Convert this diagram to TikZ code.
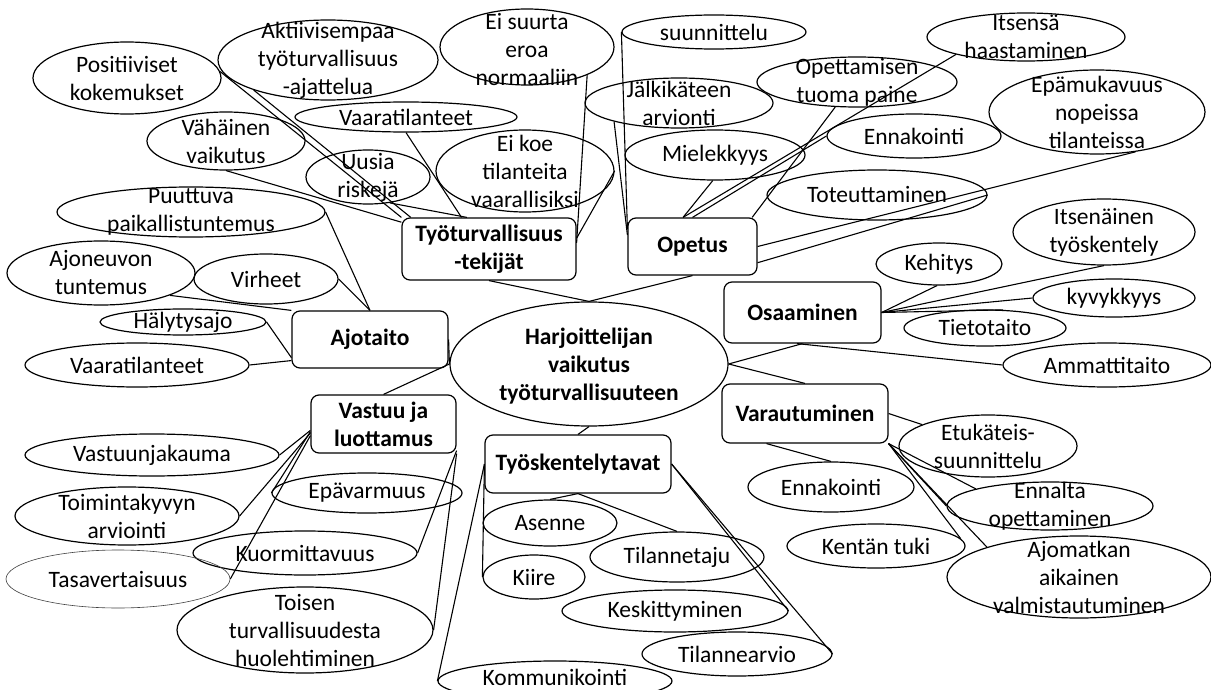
\documentclass[tikz,border=0pt]{standalone}
\usepackage{fontspec}
\setmainfont{Carlito}
\usetikzlibrary{shapes.geometric}

\begin{document}
\begin{tikzpicture}[x=1pt,y=-1pt]
    \tikzstyle{every node}+=[inner sep=0pt]
    \tikzstyle{leaf}=[draw=black, ellipse, line width=1.2pt]
    \tikzstyle{thinleaf}=[draw=black!75, ellipse, line width=0.6pt]
    \tikzstyle{hub}=[draw=black, rounded corners=8pt, line width=1.2pt, align=center, font=\fontsize{23.5}{28}\selectfont\bfseries]
    \tikzstyle{txt}=[align=center, font=\fontsize{23.5}{28}\selectfont]
    \tikzstyle{btxt}=[align=center, font=\fontsize{23.5}{28}\selectfont\bfseries]
    \tikzstyle{link}=[black, line width=1.1pt]
    \useasboundingbox (0,0) rectangle (1211,690);
    \node [leaf, minimum width=278, minimum height=124] (main) at (589,364) {};
    \node [btxt] (main-txt) at (589,366) {Harjoittelijan\\vaikutus\\työturvallisuuteen};
    \node [hub, minimum width=174, minimum height=62] (tek) at (489,249) {Työturvallisuus\\-tekijät};
    \node [hub, minimum width=129, minimum height=57] (opetus) at (692.5,246.5) {Opetus};
    \node [hub, minimum width=157, minimum height=61] (osaam) at (802.5,312.5) {Osaaminen};
    \node [hub, minimum width=166, minimum height=59] (varau) at (805,413.5) {Varautuminen};
    \node [hub, minimum width=156, minimum height=57] (ajo) at (370,339.5) {Ajotaito};
    \node [hub, minimum width=145, minimum height=58] (vastuu) at (383.5,424) {Vastuu ja\\luottamus};
    \node [hub, minimum width=186, minimum height=58] (tyosk) at (578,464) {Työskentelytavat};
    \node [leaf, minimum width=188, minimum height=72] (poskok) at (127,78) {};
    \node [txt] (poskok-txt) at (poskok) {Positiiviset\\kokemukset};
    \node [leaf, minimum width=220, minimum height=80] (aktiiv) at (328,60) {};
    \node [txt] (aktiiv-txt) at (aktiiv) {Aktiivisempaa\\työturvallisuus\\-ajattelua};
    \node [leaf, minimum width=158, minimum height=58] (vahainen) at (226,141) {};
    \node [txt] (vahainen-txt) at (vahainen) {Vähäinen\\vaikutus};
    \node [leaf, minimum width=222, minimum height=30] (vaara1) at (406,117) {};
    \node [txt] (vaara1-txt) at (vaara1) {Vaaratilanteet};
    \node [leaf, minimum width=124, minimum height=54] (uusia) at (368,177) {};
    \node [txt] (uusia-txt) at (uusia) {Uusia\\riskejä};
    \node [leaf, minimum width=268, minimum height=50] (puuttuva) at (191,212) {};
    \node [txt] (puuttuva-txt) at (puuttuva) {Puuttuva\\paikallistuntemus};
    \node [leaf, minimum width=174, minimum height=76] (eisuurta) at (527,47) {};
    \node [txt] (eisuurta-txt) at (527,50) {Ei suurta\\eroa\\normaaliin};
    \node [leaf, minimum width=178, minimum height=82] (eikoe) at (525,171) {};
    \node [txt] (eikoe-txt) at (eikoe) {Ei koe\\tilanteita\\vaarallisiksi};
    \node [leaf, minimum width=184, minimum height=34] (suunn) at (714,32) {};
    \node [txt] (suunn-txt) at (suunn) {suunnittelu};
    \node [leaf, minimum width=188, minimum height=50] (jalki) at (679,103) {};
    \node [txt] (jalki-txt) at (jalki) {Jälkikäteen\\arvionti};
    \node [leaf, minimum width=180, minimum height=50] (miel) at (715,155) {};
    \node [txt] (miel-txt) at (miel) {Mielekkyys};
    \node [leaf, minimum width=200, minimum height=50] (opettam) at (857,82) {};
    \node [txt] (opettam-txt) at (opettam) {Opettamisen\\tuoma paine};
    \node [leaf, minimum width=198, minimum height=48] (itsensa) at (1026,37) {};
    \node [txt] (itsensa-txt) at (itsensa) {Itsensä\\haastaminen};
    \node [leaf, minimum width=174, minimum height=44] (ennak1) at (914,136) {};
    \node [txt] (ennak1-txt) at (ennak1) {Ennakointi};
    \node [leaf, minimum width=216, minimum height=84] (epamuk) at (1097,112) {};
    \node [txt] (epamuk-txt) at (epamuk) {Epämukavuus\\nopeissa\\tilanteissa};
    \node [leaf, minimum width=220, minimum height=50] (toteut) at (877,195) {};
    \node [txt] (toteut-txt) at (toteut) {Toteuttaminen};
    \node [leaf, minimum width=182, minimum height=66] (itsenainen) at (1104,232) {};
    \node [txt] (itsenainen-txt) at (itsenainen) {Itsenäinen\\työskentely};
    \node [leaf, minimum width=126, minimum height=42] (kehitys) at (939,264) {};
    \node [txt] (kehitys-txt) at (kehitys) {Kehitys};
    \node [leaf, minimum width=162, minimum height=38] (kyvyk) at (1114,298) {};
    \node [txt] (kyvyk-txt) at (kyvyk) {kyvykkyys};
    \node [leaf, minimum width=162, minimum height=36] (tieto) at (985,328) {};
    \node [txt] (tieto-txt) at (tieto) {Tietotaito};
    \node [leaf, minimum width=208, minimum height=44] (ammatti) at (1107,365) {};
    \node [txt] (ammatti-txt) at (ammatti) {Ammattitaito};
    \node [leaf, minimum width=178, minimum height=62] (etukat) at (988,446) {};
    \node [txt] (etukat-txt) at (etukat) {Etukäteis-\\suunnittelu};
    \node [leaf, minimum width=166, minimum height=50] (ennak2) at (831,487) {};
    \node [txt] (ennak2-txt) at (ennak2) {Ennakointi};
    \node [leaf, minimum width=206, minimum height=48] (ennalta) at (1050,506) {};
    \node [txt] (ennalta-txt) at (ennalta) {Ennalta\\opettaminen};
    \node [leaf, minimum width=178, minimum height=44] (kentan) at (876,546) {};
    \node [txt] (kentan-txt) at (kentan) {Kentän tuki};
    \node [leaf, minimum width=264, minimum height=82] (ajomatka) at (1079,577) {};
    \node [txt] (ajomatka-txt) at (ajomatka) {Ajomatkan\\aikainen\\valmistautuminen};
    \node [leaf, minimum width=188, minimum height=64] (ajoneuvo) at (101,273) {};
    \node [txt] (ajoneuvo-txt) at (ajoneuvo) {Ajoneuvon\\tuntemus};
    \node [leaf, minimum width=144, minimum height=50] (virheet) at (266,279) {};
    \node [txt] (virheet-txt) at (virheet) {Virheet};
    \node [leaf, minimum width=166, minimum height=26] (halytys) at (183,322) {};
    \node [txt] (halytys-txt) at (halytys) {Hälytysajo};
    \node [leaf, minimum width=224, minimum height=44] (vaara2) at (137,365) {};
    \node [txt] (vaara2-txt) at (vaara2) {Vaaratilanteet};
    \node [leaf, minimum width=254, minimum height=42] (vastjak) at (152,455) {};
    \node [txt] (vastjak-txt) at (vastjak) {Vastuunjakauma};
    \node [leaf, minimum width=224, minimum height=58] (toiminta) at (127,516) {};
    \node [txt] (toiminta-txt) at (toiminta) {Toimintakyvyn\\arviointi};
    \node [leaf, minimum width=190, minimum height=40] (epavarm) at (367,493) {};
    \node [txt] (epavarm-txt) at (epavarm) {Epävarmuus};
    \node [leaf, minimum width=224, minimum height=44] (kuorm) at (305,553) {};
    \node [txt] (kuorm-txt) at (kuorm) {Kuormittavuus};
    \node [thinleaf, minimum width=224, minimum height=58] (tasa) at (118,579) {};
    \node [txt] (tasa-txt) at (tasa) {Tasavertaisuus};
    \node [leaf, minimum width=256, minimum height=86] (toisen) at (305,630) {};
    \node [txt] (toisen-txt) at (toisen) {Toisen\\turvallisuudesta\\huolehtiminen};
    \node [leaf, minimum width=134, minimum height=46] (asenne) at (550,523) {};
    \node [txt] (asenne-txt) at (asenne) {Asenne};
    \node [leaf, minimum width=174, minimum height=50] (taju) at (677,557) {};
    \node [txt] (taju-txt) at (taju) {Tilannetaju};
    \node [leaf, minimum width=102, minimum height=44] (kiire) at (534,577) {};
    \node [txt] (kiire-txt) at (kiire) {Kiire};
    \node [leaf, minimum width=226, minimum height=42] (keskitt) at (675,611) {};
    \node [txt] (keskitt-txt) at (keskitt) {Keskittyminen};
    \node [leaf, minimum width=190, minimum height=44] (arvio) at (737,654) {};
    \node [txt] (arvio-txt) at (arvio) {Tilannearvio};
    \node [leaf, minimum width=234, minimum height=40] (kommun) at (555,681) {};
    \node [txt] (kommun-txt) at (555,677) {Kommunikointi};
    \draw [link] (tek.south) -- (main.north);
    \draw [link] (opetus.south) -- (main.north);
    \draw [link] (ajo.east) -- (main.west);
    \draw [link] (main.west) -- (vastuu.north);
    \draw [link] (main.east) -- (osaam.south);
    \draw [link] (main.east) -- (varau.north);
    \draw [link] (main.south) -- (tyosk.north);
    \draw [link] (poskok.4) -- (tek.north west);
    \draw [link] (aktiiv.-158) -- (tek.158);
    \draw [link] (vahainen.south) -- (tek.163);
    \draw [link] (vaara1.south) -- (tek.131);
    \draw [link] (uusia.-50) -- (tek.125);
    \draw [link] (eikoe.east) -- (tek.7);
    \draw [link] (eisuurta.-25) -- (tek.4);
    \draw [link] (suunn.west) -- (opetus.165);
    \draw [link] (jalki.196) -- (opetus.170);
    \draw [link] (miel.-95) -- (opetus.108);
    \draw [link] (itsensa.-166) -- (opetus.108);
    \draw [link] (ennak1.west) -- (opetus.north);
    \draw [link] (opettam.-131) -- (opetus.26);
    \draw [link] (epamuk.-46) -- (opetus.east);
    \draw [link] (toteut.east) -- (opetus.-14);
    \draw [link] (osaam.east) -- (kehitys.-95);
    \draw [link] (osaam.east) -- (itsenainen.south);
    \draw [link] (osaam.east) -- (kyvyk.west);
    \draw [link] (osaam.east) -- (tieto.45);
    \draw [link] (osaam.-100) -- (ammatti.west);
    \draw [link] (varau.east) -- (etukat.162);
    \draw [link] (varau.-142) -- (ennak2.north);
    \draw [link] (varau.south east) -- (ennalta.west);
    \draw [link] (varau.south east) -- (ennalta.167);
    \draw [link] (varau.south east) -- (kentan.5);
    \draw [link] (varau.south east) -- (ajomatka.162);
    \draw [link] (puuttuva.east) -- (ajo.north);
    \draw [link] (virheet.east) -- (ajo.north);
    \draw [link] (ajoneuvo.-18) -- (ajo.north west);
    \draw [link] (halytys.east) -- (ajo.193);
    \draw [link] (vaara2.east) -- (ajo.195);
    \draw [link] (vastjak.east) -- (vastuu.185);
    \draw [link] (toiminta.east) -- (vastuu.187);
    \draw [link] (tasa.east) -- (vastuu.189);
    \draw [link] (epavarm.west) -- (vastuu.186);
    \draw [link] (kuorm.east) -- (vastuu.-20);
    \draw [link] (toisen.east) -- (vastuu.-22);
    \draw [link] (tyosk.south) -- (asenne.north);
    \draw [link] (tyosk.south) -- (taju.north);
    \draw [link] (tyosk.west) -- (kiire.west);
    \draw [link] (tyosk.west) -- (kommun.west);
    \draw [link] (tyosk.east) -- (keskitt.east);
    \draw [link] (tyosk.east) -- (arvio.east);
\end{tikzpicture}
\end{document}
